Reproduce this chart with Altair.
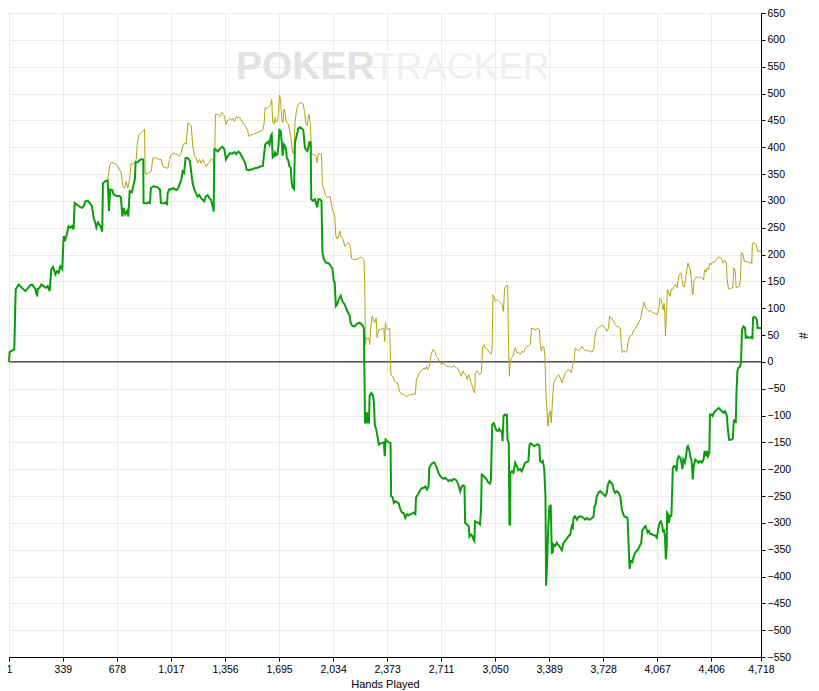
import altair as alt
import pandas as pd

# ---- green series (net won) ----
g_hand = [1,5,20,34,43,62,72,89,103,114,131,145,156,166,177,181,193,204,218,231,243,256,266,277,292,302,312,323,335,344,354,365,375,386,396,406,413,427,444,459,469,480,494,507,521,532,542,549,559,574,586,590,607,620,628,636,649,657,668,678,695,703,712,720,730,741,749,758,772,780,791,795,808,822,833,843,845,864,874,885,891,906,927,937,948,954,969,984,992,996,1007,1017,1032,1042,1053,1063,1074,1084,1090,1099,1109,1122,1136,1147,1153,1164,1174,1184,1195,1205,1216,1226,1235,1247,1258,1268,1277,1285,1289,1297,1310,1325,1339,1352,1362,1373,1387,1402,1415,1427,1440,1450,1461,1471,1482,1492,1503,1513,1528,1544,1556,1576,1593,1601,1608,1618,1628,1635,1643,1649,1655,1664,1670,1676,1685,1691,1697,1705,1712,1718,1726,1732,1739,1743,1753,1759,1768,1774,1780,1789,1795,1805,1816,1826,1836,1847,1857,1863,1872,1878,1884,1893,1897,1909,1920,1926,1934,1941,1951,1961,1967,1976,1988,2003,2013,2024,2030,2038,2044,2051,2059,2067,2076,2082,2088,2096,2107,2118,2128,2138,2144,2155,2169,2180,2190,2200,2211,2221,2227,2234,2242,2246,2252,2259,2263,2274,2284,2290,2296,2304,2321,2331,2342,2352,2358,2363,2373,2383,2394,2398,2408,2415,2425,2435,2446,2456,2467,2477,2487,2498,2508,2519,2529,2539,2550,2554,2566,2581,2591,2602,2612,2623,2633,2637,2650,2660,2668,2679,2687,2695,2706,2716,2727,2737,2747,2758,2768,2779,2789,2799,2810,2820,2831,2841,2851,2858,2862,2872,2878,2885,2889,2899,2908,2914,2920,2924,2935,2945,2955,2962,2966,2976,2987,2997,3007,3018,3024,3032,3041,3049,3057,3068,3076,3086,3093,3097,3103,3112,3118,3124,3128,3136,3140,3144,3146,3155,3165,3176,3186,3196,3207,3217,3228,3238,3249,3259,3266,3274,3286,3297,3312,3322,3328,3332,3343,3349,3358,3366,3370,3376,3383,3391,3399,3406,3412,3416,3427,3437,3443,3452,3458,3469,3479,3489,3500,3510,3521,3531,3538,3542,3552,3563,3573,3584,3594,3605,3615,3626,3636,3646,3657,3667,3674,3680,3688,3699,3709,3720,3730,3741,3751,3757,3768,3776,3787,3793,3803,3814,3824,3835,3845,3852,3860,3870,3881,3887,3894,3901,3911,3917,3928,3936,3946,3957,3967,3973,3984,3994,4000,4007,4015,4023,4032,4040,4052,4065,4073,4082,4090,4098,4104,4109,4115,4121,4127,4129,4136,4140,4148,4156,4165,4173,4181,4188,4194,4202,4213,4219,4225,4231,4240,4248,4254,4260,4269,4275,4281,4285,4290,4296,4306,4317,4327,4337,4348,4358,4364,4373,4379,4385,4394,4398,4406,4414,4423,4431,4441,4452,4462,4473,4483,4493,4504,4510,4518,4531,4541,4547,4556,4560,4564,4570,4577,4587,4593,4599,4608,4618,4622,4631,4639,4649,4660,4664,4668,4676,4685,4691,4697,4718]
g_val = [0,18,21,23,135,144,141,136,132,135,142,144,140,136,122,136,138,144,141,138,141,132,172,177,163,169,166,178,173,234,228,239,253,250,253,247,296,293,289,287,290,299,300,296,290,268,259,250,260,253,243,333,337,338,281,321,320,312,310,309,309,306,271,287,275,281,271,318,316,327,341,372,372,376,378,377,296,295,297,296,324,327,326,324,321,296,295,297,292,314,322,321,324,321,320,324,333,342,355,352,380,380,374,346,333,321,314,308,311,305,302,299,308,311,305,302,292,280,396,396,392,397,401,396,377,383,389,388,391,387,392,389,383,377,371,358,357,358,359,361,361,364,365,387,405,408,410,405,421,424,381,384,390,385,387,402,432,430,409,384,405,402,396,381,375,365,362,334,325,322,409,421,435,437,435,432,399,396,393,399,409,409,303,300,303,297,288,303,303,300,204,191,185,184,182,176,173,151,148,104,107,114,120,123,117,111,107,98,92,86,73,67,66,70,72,73,70,67,62,-113,-113,-94,-113,-113,-63,-58,-63,-76,-119,-125,-154,-152,-151,-150,-176,-145,-148,-150,-151,-250,-253,-263,-260,-262,-264,-275,-281,-282,-291,-284,-286,-284,-283,-281,-284,-253,-247,-239,-235,-235,-232,-238,-232,-198,-191,-188,-187,-194,-200,-207,-213,-216,-218,-216,-219,-222,-220,-222,-218,-219,-222,-229,-241,-232,-230,-232,-300,-303,-305,-306,-326,-322,-325,-331,-334,-297,-299,-300,-303,-276,-210,-212,-216,-219,-225,-227,-219,-117,-114,-120,-127,-129,-125,-129,-132,-148,-101,-98,-100,-99,-145,-151,-303,-303,-207,-204,-207,-188,-194,-202,-200,-204,-196,-188,-187,-185,-154,-152,-155,-157,-154,-154,-157,-185,-187,-185,-198,-250,-417,-381,-312,-269,-268,-356,-355,-340,-343,-337,-340,-343,-346,-351,-337,-334,-330,-325,-322,-306,-309,-291,-288,-294,-289,-288,-289,-291,-294,-291,-294,-294,-291,-289,-269,-266,-250,-244,-241,-244,-247,-250,-244,-229,-222,-225,-228,-238,-244,-241,-244,-250,-275,-282,-288,-289,-291,-337,-386,-371,-373,-365,-356,-353,-350,-343,-337,-315,-309,-306,-312,-318,-315,-321,-321,-323,-323,-328,-312,-300,-297,-304,-318,-312,-324,-368,-343,-281,-284,-300,-287,-287,-197,-194,-195,-204,-182,-176,-179,-188,-200,-182,-188,-176,-160,-157,-166,-176,-182,-194,-219,-194,-182,-185,-188,-185,-188,-182,-166,-176,-166,-176,-170,-98,-98,-101,-95,-92,-89,-86,-89,-92,-95,-92,-101,-126,-145,-145,-143,-110,-107,-114,-58,-17,-11,-9,1,60,66,63,45,47,45,45,47,42,82,84,82,79,63,63]

# ---- olive series (all-in adjusted) : follows the green line up to hand 620 ----
o_hand_own = [632,642,652,673,684,705,715,726,736,746,757,767,778,788,799,805,815,830,841,851,855,872,893,903,924,945,956,966,987,997,1008,1018,1039,1060,1070,1081,1091,1102,1112,1123,1133,1144,1154,1165,1175,1186,1196,1206,1217,1227,1238,1259,1269,1280,1290,1296,1311,1326,1336,1347,1355,1363,1374,1384,1395,1405,1416,1426,1437,1447,1457,1468,1478,1489,1499,1505,1520,1535,1556,1576,1593,1601,1608,1618,1628,1635,1643,1649,1655,1664,1670,1676,1685,1691,1697,1705,1712,1718,1726,1732,1739,1743,1753,1759,1768,1774,1780,1789,1795,1805,1816,1826,1836,1847,1857,1863,1872,1878,1884,1893,1897,1909,1920,1926,1934,1941,1947,1951,1961,1967,1976,1988,2003,2013,2024,2030,2038,2044,2051,2059,2067,2076,2082,2088,2096,2107,2118,2128,2137,2143,2149,2164,2184,2205,2220,2228,2233,2237,2243,2251,2258,2264,2270,2279,2287,2295,2304,2310,2320,2331,2341,2352,2358,2362,2368,2379,2389,2396,2408,2419,2429,2439,2450,2462,2477,2492,2504,2519,2540,2550,2557,2567,2575,2586,2596,2605,2613,2619,2628,2638,2648,2661,2671,2682,2692,2703,2713,2724,2734,2745,2755,2766,2776,2786,2797,2807,2818,2828,2839,2847,2857,2868,2874,2883,2891,2899,2906,2914,2922,2926,2935,2943,2952,2964,2972,2981,2989,3002,3014,3025,3031,3037,3046,3052,3062,3073,3083,3094,3102,3110,3119,3129,3135,3140,3144,3152,3161,3169,3177,3188,3198,3209,3219,3229,3240,3250,3261,3271,3278,3292,3307,3319,3328,3334,3340,3349,3357,3363,3369,3376,3382,3390,3397,3403,3411,3418,3428,3438,3449,3459,3470,3480,3491,3501,3512,3522,3528,3537,3545,3553,3564,3574,3585,3595,3606,3616,3627,3637,3648,3658,3668,3680,3688,3699,3709,3720,3730,3741,3751,3762,3768,3776,3785,3793,3803,3814,3824,3835,3841,3847,3857,3866,3877,3883,3891,3902,3910,3921,3932,3942,3953,3963,3973,3984,3990,3998,4007,4015,4025,4036,4046,4057,4067,4077,4084,4092,4098,4104,4111,4115,4119,4125,4131,4140,4148,4156,4165,4173,4181,4192,4202,4208,4215,4223,4229,4238,4244,4252,4260,4269,4275,4281,4287,4292,4298,4306,4317,4327,4337,4348,4358,4364,4373,4379,4389,4396,4404,4410,4421,4431,4441,4452,4462,4473,4479,4485,4493,4500,4506,4514,4525,4535,4541,4548,4556,4562,4573,4583,4589,4595,4604,4614,4625,4635,4645,4656,4660,4664,4673,4681,4689,4697,4718]
o_val_own = [365,372,371,368,364,352,327,324,336,324,340,370,368,370,377,405,423,427,430,433,351,351,355,380,380,377,377,364,361,361,377,386,389,386,383,389,402,408,405,445,444,439,402,383,380,370,377,370,377,370,364,373,378,377,361,461,461,457,465,461,454,442,451,454,450,454,448,457,454,456,451,445,442,436,430,420,423,424,427,429,432,443,474,471,474,477,480,489,446,443,455,446,449,461,497,489,452,446,471,465,449,446,443,434,421,406,390,387,446,471,480,483,482,480,461,443,440,455,461,433,387,387,384,384,371,387,389,387,387,328,322,309,306,309,294,283,278,272,235,229,232,244,235,232,229,215,218,222,220,210,193,190,191,195,193,190,134,32,45,42,45,32,63,85,79,73,82,45,60,61,61,63,38,73,62,60,63,-24,-27,-36,-39,-39,-55,-60,-61,-65,-63,-61,-60,-60,-31,-28,-20,-17,-14,-11,-14,-8,-14,-8,14,23,20,10,7,1,-5,-2,-5,-8,-9,-8,-11,-7,-9,-11,-14,-20,-27,-17,-22,-25,-33,-24,-30,-39,-45,-54,-58,-20,-17,-20,-24,-20,29,32,26,23,17,14,23,125,119,113,116,113,110,107,94,138,142,142,23,-27,1,7,10,20,26,17,17,14,20,17,26,29,30,32,63,61,60,63,60,32,20,29,26,7,-58,-92,-120,-95,-92,-114,-65,-39,-33,-27,-24,-30,-39,-30,-20,-17,-14,-17,-20,-5,4,26,23,20,23,29,23,20,22,20,20,18,23,54,60,63,66,68,66,63,57,63,85,82,79,76,70,66,66,63,38,17,20,18,20,35,45,48,51,60,63,68,76,79,97,111,105,99,97,94,96,92,91,90,88,97,119,116,107,97,109,85,48,91,135,128,122,135,135,141,144,138,160,163,166,153,141,140,153,169,184,175,172,153,128,125,153,156,159,156,159,156,153,172,167,175,172,184,181,184,186,187,192,196,194,191,184,187,189,184,153,136,136,138,138,175,169,138,140,141,153,204,202,187,186,187,184,185,183,221,222,220,218,206,206]

x_ticks = [1,339,678,1017,1356,1695,2034,2373,2711,3050,3389,3728,4067,4406,4718]
y_ticks = [-550,-500,-450,-400,-350,-300,-250,-200,-150,-100,-50,0,50,100,150,200,250,300,350,400,450,500,550,600,650]

shared = [(h, v) for h, v in zip(g_hand, g_val) if h <= 620]
o_hand = [h for h, _ in shared] + o_hand_own
o_val = [v for _, v in shared] + o_val_own

green_df = pd.DataFrame({"hand": g_hand, "value": g_val})
olive_df = pd.DataFrame({"hand": o_hand, "value": o_val})
zero_df = pd.DataFrame({"hand": [1, 4718], "value": [0, 0]})

FONT = "Liberation Sans"

xs = alt.Scale(domain=[1, 4718], nice=False, zero=False)
ys = alt.Scale(domain=[-550, 650], nice=False, zero=False)

x_axis = alt.Axis(values=x_ticks, format=",d", title="Hands Played", grid=True,
                  gridColor="#ebebeb", tickColor="black", domainColor="black",
                  labelColor="black", labelFont=FONT, labelFontSize=10.5, tickSize=4,
                  titleFont=FONT, titleFontSize=11, titleFontWeight="normal",
                  titleColor="black", labelPadding=3, titlePadding=4, labelFlush=False,
                  labelOverlap=False)
y_axis = alt.Axis(values=y_ticks, tickCount=25, orient="right", title="#", grid=True,
                  gridColor="#ebebeb", tickColor="black", domainColor="black",
                  labelColor="black", labelFont=FONT, labelFontSize=10.5, tickSize=4,
                  titleFont=FONT, titleFontSize=12, titleFontWeight="normal",
                  titleColor="black", titleAngle=90, labelPadding=2, titlePadding=5,
                  labelFlush=False, labelOverlap=False)

X = alt.X("hand:Q", scale=xs, axis=x_axis)
Y = alt.Y("value:Q", scale=ys, axis=y_axis)

zero = alt.Chart(zero_df).mark_line(color="black", strokeWidth=1).encode(x=X, y=Y)
olive = alt.Chart(olive_df).mark_line(color="#b2a60e", strokeWidth=1).encode(x=X, y=Y)
green = alt.Chart(green_df).mark_line(color="#0a9e0a", strokeWidth=2).encode(x=X, y=Y)

wm1 = alt.Chart(pd.DataFrame({"t": ["POKER"]})).mark_text(
    font=FONT, fontSize=39, fontWeight="bold", color="#e2e2e2", align="left",
    baseline="alphabetic").encode(text="t:N", x=alt.value(227), y=alt.value(66))
wm2 = alt.Chart(pd.DataFrame({"t": ["TRACKER"]})).mark_text(
    font=FONT, fontSize=37, color="#efefef", align="left",
    baseline="alphabetic").encode(text="t:N", x=alt.value(364), y=alt.value(66))

chart = alt.layer(zero, olive, green, wm1, wm2).properties(
    width=752, height=644,
    autosize=alt.AutoSizeParams(type="none"),
    padding={"left": 1, "top": 5, "right": 49, "bottom": 40},
    background="white",
).configure_view(stroke="black", strokeWidth=1)

chart.save("out.html", embed_options={"renderer": "svg", "actions": False})
